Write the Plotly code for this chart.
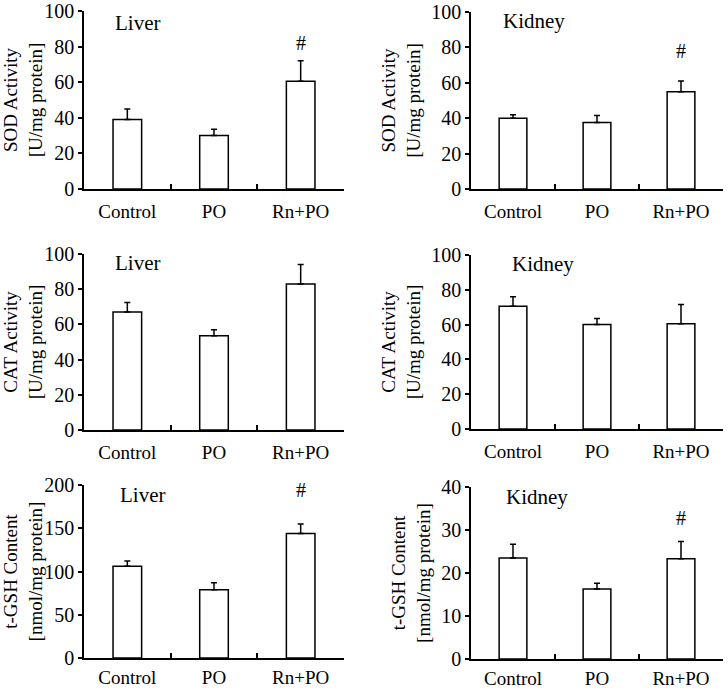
import plotly.graph_objects as go

categories = ["Control", "PO", "Rn+PO"]

sod_liver = [39, 30, 60.5]
sod_liver_err = [6, 3.5, 11.5]
sod_kidney = [40, 37.5, 55]
sod_kidney_err = [2, 4, 6]
cat_liver = [67, 53.5, 83]
cat_liver_err = [5.5, 3.5, 11]
cat_kidney = [70.5, 60, 60.5]
cat_kidney_err = [5.5, 3.5, 11]
gsh_liver = [106, 79, 144]
gsh_liver_err = [6, 8, 11]
gsh_kidney = [23.5, 16.3, 23.3]
gsh_kidney_err = [3.2, 1.3, 4.0]

panels = [
    dict(vals=sod_liver, err=sod_liver_err, organ="Liver", ytitle="SOD Activity<br>[U/mg protein]",
         ymax=100, dtick=20, hash_y=82, px=(84, 344), py=(11, 189), lab=(0.11, 0.93), st=4),
    dict(vals=sod_kidney, err=sod_kidney_err, organ="Kidney", ytitle="SOD Activity<br>[U/mg protein]",
         ymax=100, dtick=20, hash_y=78, px=(471, 723), py=(12, 189), lab=(0.12, 0.95), st=4),
    dict(vals=cat_liver, err=cat_liver_err, organ="Liver", ytitle="CAT Activity<br>[U/mg protein]",
         ymax=100, dtick=20, hash_y=None, px=(84, 344), py=(254, 430), lab=(0.11, 0.95), st=4),
    dict(vals=cat_kidney, err=cat_kidney_err, organ="Kidney", ytitle="CAT Activity<br>[U/mg protein]",
         ymax=100, dtick=20, hash_y=None, px=(471, 723), py=(255, 429), lab=(0.155, 0.95), st=4),
    dict(vals=gsh_liver, err=gsh_liver_err, organ="Liver", ytitle="t-GSH Content<br>[nmol/mg protein]",
         ymax=200, dtick=50, hash_y=194, px=(84, 344), py=(485, 658), lab=(0.13, 0.94), st=1),
    dict(vals=gsh_kidney, err=gsh_kidney_err, organ="Kidney", ytitle="t-GSH Content<br>[nmol/mg protein]",
         ymax=40, dtick=10, hash_y=32.7, px=(471, 723), py=(487, 659), lab=(0.13, 0.94), st=1),
]

W, H = 728, 692
FONT = "Liberation Serif, Times New Roman, serif"

fig = go.Figure()
annotations = []
for i, p in enumerate(panels, start=1):
    xa = "x" if i == 1 else f"x{i}"
    ya = "y" if i == 1 else f"y{i}"
    fig.add_trace(go.Bar(
        x=categories, y=p["vals"], xaxis=xa, yaxis=ya,
        marker=dict(color="white", line=dict(color="black", width=1.5)),
        width=0.33,
        error_y=dict(type="data", array=p["err"], arrayminus=[0] * 3, symmetric=False,
                     color="black", thickness=1.5, width=3),
        showlegend=False, hoverinfo="skip",
    ))
    xd = [p["px"][0] / W, p["px"][1] / W]
    yd = [1 - p["py"][1] / H, 1 - p["py"][0] / H]
    xkey = "xaxis" if i == 1 else f"xaxis{i}"
    ykey = "yaxis" if i == 1 else f"yaxis{i}"
    fig.layout[xkey] = dict(
        domain=xd, anchor=ya, type="category", range=[-0.5, 2.5], automargin=False,
        showline=True, linecolor="black", linewidth=1.5, mirror=False,
        ticks="inside", tickson="boundaries", ticklen=5, tickwidth=1.5, tickcolor="black",
        showgrid=False, zeroline=False, ticklabelstandoff=p["st"],
        tickfont=dict(family=FONT, size=19, color="black"),
    )
    fig.layout[ykey] = dict(
        domain=yd, anchor=xa, range=[0, p["ymax"]], dtick=p["dtick"], tick0=0, automargin=False,
        showline=True, linecolor="black", linewidth=1.5,
        ticks="outside", ticklen=4, tickwidth=1.5, tickcolor="black",
        showgrid=False, zeroline=False, ticklabeloverflow="allow",
        tickfont=dict(family=FONT, size=20, color="black"),
        title=dict(text=p["ytitle"], font=dict(family=FONT, size=19, color="black"), standoff=6),
    )
    annotations.append(dict(
        text=p["organ"], xref=f"{xa} domain", yref=f"{ya} domain",
        x=p["lab"][0], y=p["lab"][1], xanchor="left", yanchor="middle", showarrow=False,
        font=dict(family=FONT, size=21, color="black"),
    ))
    if p["hash_y"] is not None:
        annotations.append(dict(
            text="#", xref=xa, yref=ya, x="Rn+PO", y=p["hash_y"],
            xanchor="center", yanchor="middle", showarrow=False,
            font=dict(family=FONT, size=20, color="black"),
        ))

fig.update_layout(
    width=W, height=H, margin=dict(l=0, r=0, t=0, b=0),
    paper_bgcolor="white", plot_bgcolor="white",
    annotations=annotations,
)
fig.write_html("out.html", config={"displayModeBar": False},
               post_script="document.body.style.margin='0';")
